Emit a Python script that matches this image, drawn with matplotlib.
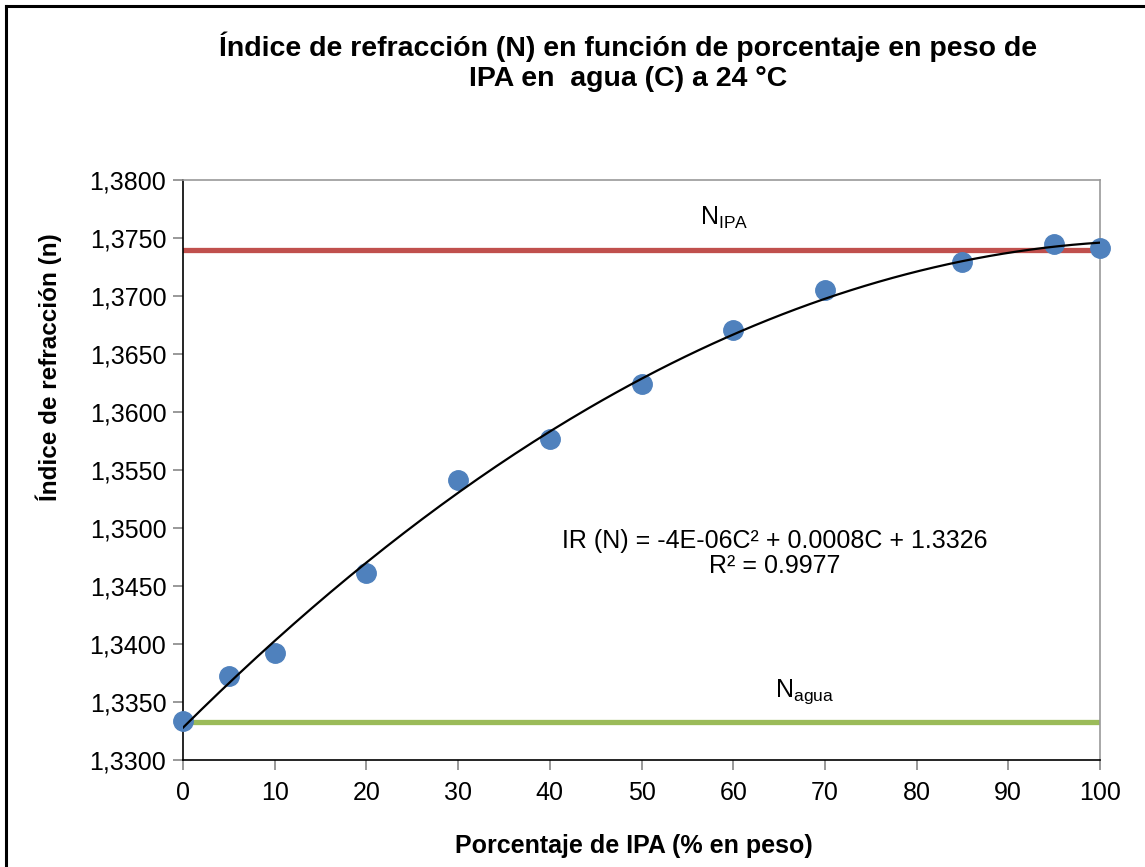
import numpy as np
import matplotlib.pyplot as plt
from matplotlib.ticker import FuncFormatter

# data
conc = [0, 5, 10, 20, 30, 40, 50, 60, 70, 85, 95, 100]
ri = [1.3334, 1.3372, 1.3392, 1.3461, 1.3541, 1.3577, 1.3624, 1.3671, 1.3705, 1.3729, 1.3745, 1.3741]
n_ipa = 1.3740
n_agua = 1.3333
x_ticks = list(range(0, 101, 10))
y_ticks = [1.330, 1.335, 1.340, 1.345, 1.350, 1.355, 1.360, 1.365, 1.370, 1.375, 1.380]

plt.rcParams['font.family'] = ['Liberation Sans', 'DejaVu Sans']

fig = plt.figure(figsize=(11.45, 8.67), dpi=100)
ax = fig.add_axes([183 / 1145, 1 - 760 / 867, (1100 - 183) / 1145, (760 - 180) / 867])

# reference lines
ax.plot([0, 100], [n_ipa, n_ipa], color='#C0504D', lw=3.8, zorder=2)
ax.plot([0, 100], [n_agua, n_agua], color='#9BBB59', lw=3.8, zorder=2)

# data points
ax.plot(conc, ri, 'o', color='#4F81BD', ms=14, zorder=3, clip_on=False)

# polynomial trendline (order 2)
coef = np.polyfit(conc, ri, 2)
xs = np.linspace(0, 100, 200)
ax.plot(xs, np.polyval(coef, xs), color='black', lw=1.6, zorder=4)

ax.set_xlim(0, 100)
ax.set_ylim(1.33, 1.38)
ax.set_xticks(x_ticks)
ax.set_yticks(y_ticks)
ax.yaxis.set_major_formatter(FuncFormatter(lambda v, p: f'{v:.4f}'.replace('.', ',')))
ax.tick_params(labelsize=18, color='#888888', length=7, width=1.2, direction='out')
ax.tick_params(axis='x', pad=8)
ax.tick_params(axis='y', pad=5)

for s in ['top', 'right']:
    ax.spines[s].set_color('#999999')
    ax.spines[s].set_linewidth(1.2)
for s in ['left', 'bottom']:
    ax.spines[s].set_color('black')
    ax.spines[s].set_linewidth(1.2)

# labels on the lines
ax.text(59, 1.3767, r'N$_{\mathregular{IPA}}$', fontsize=18, ha='center', va='center')
ax.text(67.8, 1.3359, r'N$_{\mathregular{agua}}$', fontsize=18, ha='center', va='center')

# equation
ax.text(64.5, 1.3478, 'IR (N) = -4E-06C² + 0.0008C + 1.3326\nR² = 0.9977',
        fontsize=18, ha='center', va='center', linespacing=1.05)

fig.text(628 / 1145, 1 - 62 / 867,
         'Índice de refracción (N) en función de porcentaje en peso de\nIPA en  agua (C) a 24 °C',
         fontsize=20.5, fontweight='bold', ha='center', va='center', linespacing=1.2)
fig.text(634 / 1145, 1 - 846 / 867, 'Porcentaje de IPA (% en peso)',
         fontsize=18, fontweight='bold', ha='center', va='center')
fig.text(49 / 1145, 1 - 367 / 867, 'Índice de refracción (n)',
         fontsize=17.5, fontweight='bold', ha='center', va='center', rotation=90)

# outer frame
fig.add_artist(plt.Line2D([6 / 1145, 6 / 1145], [0, 1 - 6 / 867], color='black', lw=2.2,
                          transform=fig.transFigure))
fig.add_artist(plt.Line2D([6 / 1145, 1], [1 - 6 / 867, 1 - 6 / 867], color='black', lw=2.2,
                          transform=fig.transFigure))

fig.savefig('out.png', dpi=100)
